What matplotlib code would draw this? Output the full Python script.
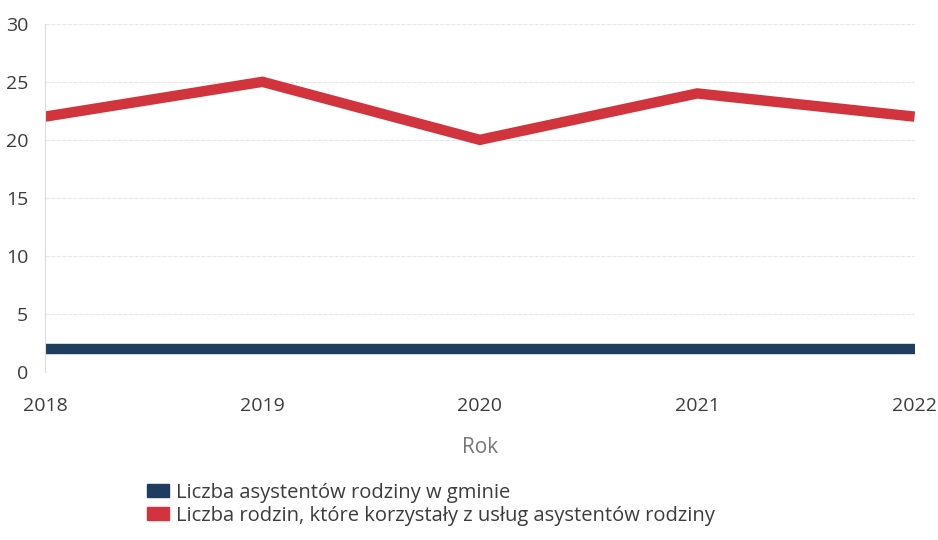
import matplotlib.pyplot as plt
from matplotlib.patches import Patch

plt.rcParams['font.family'] = ['Open Sans', 'DejaVu Sans']

years = [2018, 2019, 2020, 2021, 2022]
asystenci = [2, 2, 2, 2, 2]
rodziny = [22, 25, 20, 24, 22]

label_asyst = "Liczba asystentów rodziny w gminie"
label_rodz = "Liczba rodzin, które korzystały z usług asystentów rodziny"

blue = "#1f3d5e"
red = "#d1343d"
text_col = "#3c3c3c"

fig = plt.figure(figsize=(9.38, 5.4), dpi=100)
ax = fig.add_axes([0.048, 0.311, 0.927, 0.645])

ax.plot(years, asystenci, color=blue, lw=7.5, solid_capstyle="butt", solid_joinstyle="miter")
ax.plot(years, rodziny, color=red, lw=7.5, solid_capstyle="butt", solid_joinstyle="miter")

ax.set_xlim(2018, 2022)
ax.set_ylim(0, 30)
ax.set_yticks(range(0, 31, 5))
ax.set_xticks(years)
ax.grid(axis="y", color="#e8e8e8", lw=0.8, ls=(0, (4, 1)))
ax.set_axisbelow(True)
for s in ["top", "right", "bottom"]:
    ax.spines[s].set_visible(False)
ax.spines["left"].set_color("#dddddd")
ax.spines["left"].set_linewidth(0.8)
ax.tick_params(length=0, labelsize=14, colors=text_col)
ax.tick_params(axis="y", pad=12)
ax.tick_params(axis="x", pad=18)
ax.set_xlabel("Rok", fontsize=15, color="#777777", labelpad=16)

handles = [Patch(color=blue), Patch(color=red)]
fig.legend(handles, [label_asyst, label_rodz], loc="upper left",
           bbox_to_anchor=(0.146, 0.125), frameon=False, fontsize=14.5,
           handlelength=1.1, handleheight=0.55, handletextpad=0.35,
           labelspacing=0.15, borderpad=0, labelcolor=text_col)

fig.savefig("out.png", dpi=100)
